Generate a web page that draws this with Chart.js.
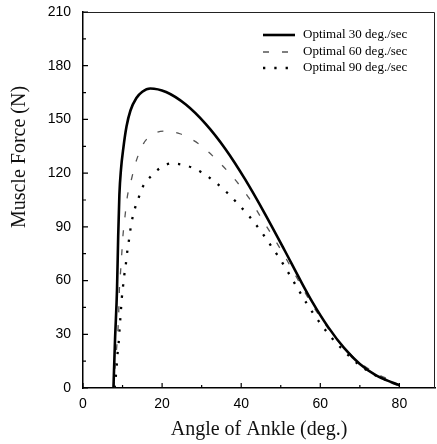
<!DOCTYPE html>
<html>
<head>
<meta charset="utf-8">
<script src="https://cdn.jsdelivr.net/npm/chart.js@4.4.1/dist/chart.umd.min.js"></script>
<style>
html, body { margin: 0; padding: 0; background: #fff; }
</style>
</head>
<body>
<canvas id="chart" width="437" height="444"></canvas>
<script>
// ankle angle (deg.) / muscle force (N)
const ang30 = [7.7, 8.1, 8.6, 8.9, 9.2, 9.6, 10.2, 11, 12, 13.5, 15, 17, 21, 26, 31, 36, 41, 46, 51, 55, 58, 62, 66, 70, 74, 78, 80];
const f30 = [0, 27, 55, 85, 108, 122, 134, 146, 155, 162, 165.5, 167.3, 165.3, 158.3, 147.5, 133.5, 116.5, 97.3, 76.8, 60, 48, 34, 22.4, 13.4, 7.2, 3.2, 1.5];

const ang60 = [7.8, 8.1, 8.6, 9.0, 9.2, 9.5, 9.8, 10.1, 10.6, 11.2, 12.3, 13.2, 15.3, 17.5, 20.5, 24.5, 29.5, 33.3, 38.4, 42, 44.8, 47.6, 50.5, 53.2, 55.6, 58.1, 61.9, 65.6, 69.8, 74, 78.2, 80];
const f60 = [0, 12, 25, 40, 55, 65, 75, 85, 95.5, 106.7, 117, 125, 136.5, 141.5, 143.5, 142, 136, 128.5, 116.5, 106, 96, 86, 75.5, 65, 55.5, 46, 33.5, 23.5, 14.5, 8.3, 3.8, 1.5];

const ang90 = [8.0, 8.5, 8.7, 9.0, 9.2, 9.4, 9.6, 9.8, 10.1, 10.4, 10.8, 11.1, 11.5, 11.9, 12.3, 13, 14, 15.1, 17, 19.6, 22.4, 25.3, 28.1, 30.8, 33.8, 36.4, 39.2, 42, 43.7, 45.9, 47.8, 49.7, 51.4, 53, 56.4, 58.3, 60.4, 62.5, 65.2, 67.9, 70.7, 73.8, 76.6, 80];
const f90 = [0, 11.7, 18.3, 24.8, 31.3, 37.5, 43.8, 49.9, 56.4, 62.4, 68.5, 74.7, 80.7, 87.2, 92.7, 99.3, 105.8, 112.3, 117.9, 123, 125.4, 124.6, 122.6, 119.3, 114.3, 109.2, 102.8, 96, 91.3, 84.7, 78.6, 72.4, 66.4, 60.4, 47.8, 41.4, 34.9, 29, 22.5, 16.6, 11.5, 7.3, 4.5, 1.5];

const labels = ["Optimal 30 deg./sec", "Optimal 60 deg./sec", "Optimal 90 deg./sec"];
const xTicks = [0, 20, 40, 60, 80];
const xTickMarks = [0, 10, 20, 30, 40, 50, 60, 70, 80];
const yTicks = [0, 30, 60, 90, 120, 150, 180, 210];
const yTickMarks = [0, 15, 30, 45, 60, 75, 90, 105, 120, 135, 150, 165, 180, 195, 210];

const pts = (xs, ys) => xs.map((x, i) => ({ x: x, y: ys[i] }));

// box, inward ticks, legend and the y title
const extras = {
  id: "extras",
  afterDraw(chart) {
    const { ctx, chartArea: a, scales: { x, y } } = chart;
    ctx.save();
    ctx.strokeStyle = "#222";
    ctx.lineWidth = 1;
    ctx.beginPath();
    ctx.moveTo(a.left, a.top + 0.5);
    ctx.lineTo(a.right - 0.5, a.top + 0.5);
    ctx.lineTo(a.right - 0.5, a.bottom);
    ctx.stroke();

    ctx.strokeStyle = "#000";
    ctx.lineWidth = 1.2;
    ctx.beginPath();
    xTickMarks.forEach(v => {
      const px = x.getPixelForValue(v);
      const len = v % 20 ? 3 : 5;
      ctx.moveTo(px, a.bottom);
      ctx.lineTo(px, a.bottom - len);
    });
    yTickMarks.forEach(v => {
      const py = y.getPixelForValue(v);
      const len = v % 30 ? 3 : 5;
      ctx.moveTo(a.left, py);
      ctx.lineTo(a.left + len, py);
    });
    ctx.stroke();

    // legend
    const rows = [35, 52, 68];
    ctx.font = '13px "Liberation Serif"';
    ctx.textBaseline = "middle";
    ctx.textAlign = "left";
    chart.data.datasets.forEach((ds, i) => {
      ctx.save();
      ctx.strokeStyle = ds.borderColor;
      ctx.lineWidth = ds.borderWidth;
      ctx.setLineDash(ds.borderDash || []);
      ctx.beginPath();
      ctx.moveTo(263, rows[i]);
      ctx.lineTo(295, rows[i]);
      ctx.stroke();
      ctx.restore();
      ctx.fillStyle = "#000";
      ctx.fillText(ds.label, 303, rows[i]);
    });

    // y title sits above the middle of the axis
    ctx.translate(20, 157);
    ctx.rotate(-Math.PI / 2);
    ctx.textAlign = "center";
    ctx.font = '20px "Liberation Serif"';
    ctx.fillStyle = "#111";
    ctx.fillText("Muscle Force (N)", 0, 0);
    ctx.restore();
  }
};

new Chart(document.getElementById("chart"), {
  type: "line",
  data: {
    datasets: [{
      label: labels[0],
      data: pts(ang30, f30),
      borderColor: "#000",
      borderWidth: 2.6,
    }, {
      label: labels[1],
      data: pts(ang60, f60),
      borderColor: "#555",
      borderWidth: 1.3,
      borderDash: [6, 13],
    }, {
      label: labels[2],
      data: pts(ang90, f90),
      borderColor: "#000",
      borderWidth: 2.3,
      borderDash: [2.3, 9],
    }]
  },
  options: {
    responsive: false,
    animation: false,
    layout: { padding: { top: 12, right: 2, left: 0, bottom: 0 } },
    elements: {
      point: { radius: 0 },
      line: { cubicInterpolationMode: "monotone", fill: false }
    },
    plugins: {
      legend: { display: false },
      tooltip: { enabled: false }
    },
    scales: {
      x: {
        type: "linear",
        min: 0,
        max: 89,
        afterBuildTicks: s => { s.ticks = xTicks.map(v => ({ value: v })); },
        afterFit: s => { s.height = 56; s.paddingLeft = 0; s.paddingRight = 0; },
        grid: { display: false, drawTicks: false },
        border: { color: "#000", width: 1.5 },
        ticks: {
          color: "#000",
          font: { family: "Liberation Sans", size: 14 },
          padding: 8,
          maxRotation: 0,
          autoSkip: false
        },
        title: {
          display: true,
          text: "Angle of Ankle (deg.)",
          color: "#111",
          font: { family: "Liberation Serif", size: 20 },
          padding: { top: 0, bottom: 2 }
        }
      },
      y: {
        min: 0,
        max: 210,
        afterBuildTicks: s => { s.ticks = yTicks.map(v => ({ value: v })); },
        afterFit: s => { s.width = 83; s.paddingTop = 0; s.paddingBottom = 0; },
        grid: { display: false, drawTicks: false },
        border: { color: "#000", width: 1.5 },
        ticks: {
          color: "#000",
          font: { family: "Liberation Sans", size: 14 },
          padding: 12
        }
      }
    }
  },
  plugins: [extras]
});
</script>
</body>
</html>
